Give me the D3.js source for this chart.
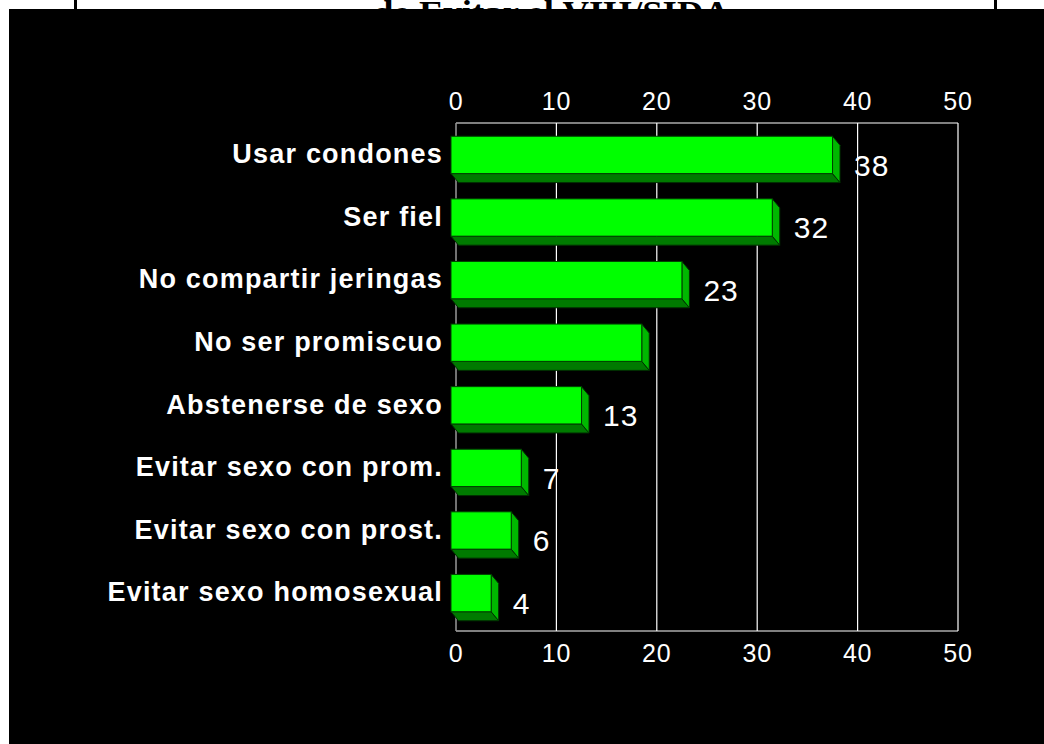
<!DOCTYPE html>
<html>
<head>
<meta charset="utf-8">
<script src="https://cdn.jsdelivr.net/npm/d3@7.9.0/dist/d3.min.js"></script>
<style>
  body { margin: 0; background: #fff; }
  svg { display: block; }
</style>
</head>
<body>
<svg id="chart" width="1044" height="744"></svg>
<script>
const categories = [
  "Usar condones",
  "Ser fiel",
  "No compartir jeringas",
  "No ser promiscuo",
  "Abstenerse de sexo",
  "Evitar sexo con prom.",
  "Evitar sexo con prost.",
  "Evitar sexo homosexual"
];
const values = [38, 32, 23, 19, 13, 7, 6, 4];
const valueLabels = ["38", "32", "23", "", "13", "7", "6", "4"];
const tickValues = [0, 10, 20, 30, 40, 50];
const titleText = "de Evitar el VIH/SIDA";

const svg = d3.select("#chart");

// title of the slide, mostly hidden by the black panel (as in the scan)
svg.append("text")
  .attr("x", 373)
  .attr("y", 24)
  .attr("textLength", 357)
  .attr("lengthAdjust", "spacingAndGlyphs")
  .attr("font-family", "Liberation Serif, Times New Roman, serif")
  .attr("font-weight", "bold")
  .attr("font-size", 34)
  .attr("fill", "#000")
  .text(titleText);

svg.append("rect").attr("x", 74).attr("y", 0).attr("width", 3).attr("height", 12).attr("fill", "#000");
svg.append("rect").attr("x", 994).attr("y", 0).attr("width", 3).attr("height", 12).attr("fill", "#000");

// black slide background
svg.append("rect")
  .attr("x", 9).attr("y", 9)
  .attr("width", 1044 - 9).attr("height", 744 - 9)
  .attr("fill", "#000");

const x = d3.scaleLinear().domain([0, 50]).range([456, 958]);
const y = d3.scaleBand()
  .domain(categories)
  .range([130, 627])
  .paddingInner(0.26)
  .paddingOuter(0.1);

const plotTop = 123, plotBottom = 631;
const dx = 7.5, dy = 9;

// grid lines
svg.append("g")
  .selectAll("line")
  .data(tickValues.slice(1))
  .join("line")
  .attr("x1", d => x(d)).attr("x2", d => x(d))
  .attr("y1", plotTop).attr("y2", plotBottom)
  .attr("stroke", "#fff")
  .attr("stroke-width", 1.2);

svg.append("line")
  .attr("x1", x(0)).attr("x2", x(50))
  .attr("y1", plotTop).attr("y2", plotTop)
  .attr("stroke", "#fff").attr("stroke-width", 1.2);
svg.append("line")
  .attr("x1", x(0)).attr("x2", x(50))
  .attr("y1", plotBottom).attr("y2", plotBottom)
  .attr("stroke", "#fff").attr("stroke-width", 1.2);
svg.append("line")
  .attr("x1", x(0)).attr("x2", x(0))
  .attr("y1", plotTop).attr("y2", plotBottom)
  .attr("stroke", "#999").attr("stroke-width", 1.5);

// tick labels top and bottom
const tickFont = "Liberation Sans, Arial, Helvetica, sans-serif";
[110, 662].forEach(yy => {
  svg.append("g")
    .selectAll("text")
    .data(tickValues)
    .join("text")
    .attr("x", d => x(d))
    .attr("y", yy)
    .attr("text-anchor", "middle")
    .attr("font-family", tickFont)
    .attr("font-size", 25)
    .attr("letter-spacing", 0.8)
    .attr("fill", "#fff")
    .text(d => d);
});

// 3D bars
const frontH = y.bandwidth() - dy;
const bars = svg.append("g")
  .selectAll("g")
  .data(categories.map((c, i) => ({ cat: c, value: values[i], label: valueLabels[i] })))
  .join("g");

bars.each(function (d) {
  const g = d3.select(this);
  const x0 = x(0) - 5;
  const x1 = x(d.value) - 5;
  const y0 = y(d.cat);
  const y1 = y0 + frontH;
  // bottom face
  g.append("path")
    .attr("d", `M${x0},${y1}L${x0 + dx},${y1 + dy}L${x1 + dx},${y1 + dy}L${x1},${y1}Z`)
    .attr("fill", "#007a00")
    .attr("stroke", "#003000").attr("stroke-width", 1);
  // side face
  g.append("path")
    .attr("d", `M${x1},${y0}L${x1 + dx},${y0 + dy}L${x1 + dx},${y1 + dy}L${x1},${y1}Z`)
    .attr("fill", "#00b800")
    .attr("stroke", "#003000").attr("stroke-width", 1);
  // front face
  g.append("rect")
    .attr("x", x0).attr("y", y0)
    .attr("width", x1 - x0).attr("height", frontH)
    .attr("fill", "#00ff00")
    .attr("stroke", "#004000").attr("stroke-width", 1);
});

// value labels
bars.append("text")
  .attr("x", d => x(d.value) + dx + 9)
  .attr("y", d => y(d.cat) + frontH + 2)
  .attr("font-family", tickFont)
  .attr("font-size", 30)
  .attr("letter-spacing", 1)
  .attr("fill", "#fff")
  .text(d => d.label);

// category labels
bars.append("text")
  .attr("x", 443)
  .attr("y", d => y(d.cat) + 27)
  .attr("text-anchor", "end")
  .attr("font-family", tickFont)
  .attr("font-weight", "bold")
  .attr("font-size", 27)
  .attr("letter-spacing", 1.2)
  .attr("fill", "#fff")
  .text(d => d.cat);
</script>
</body>
</html>
